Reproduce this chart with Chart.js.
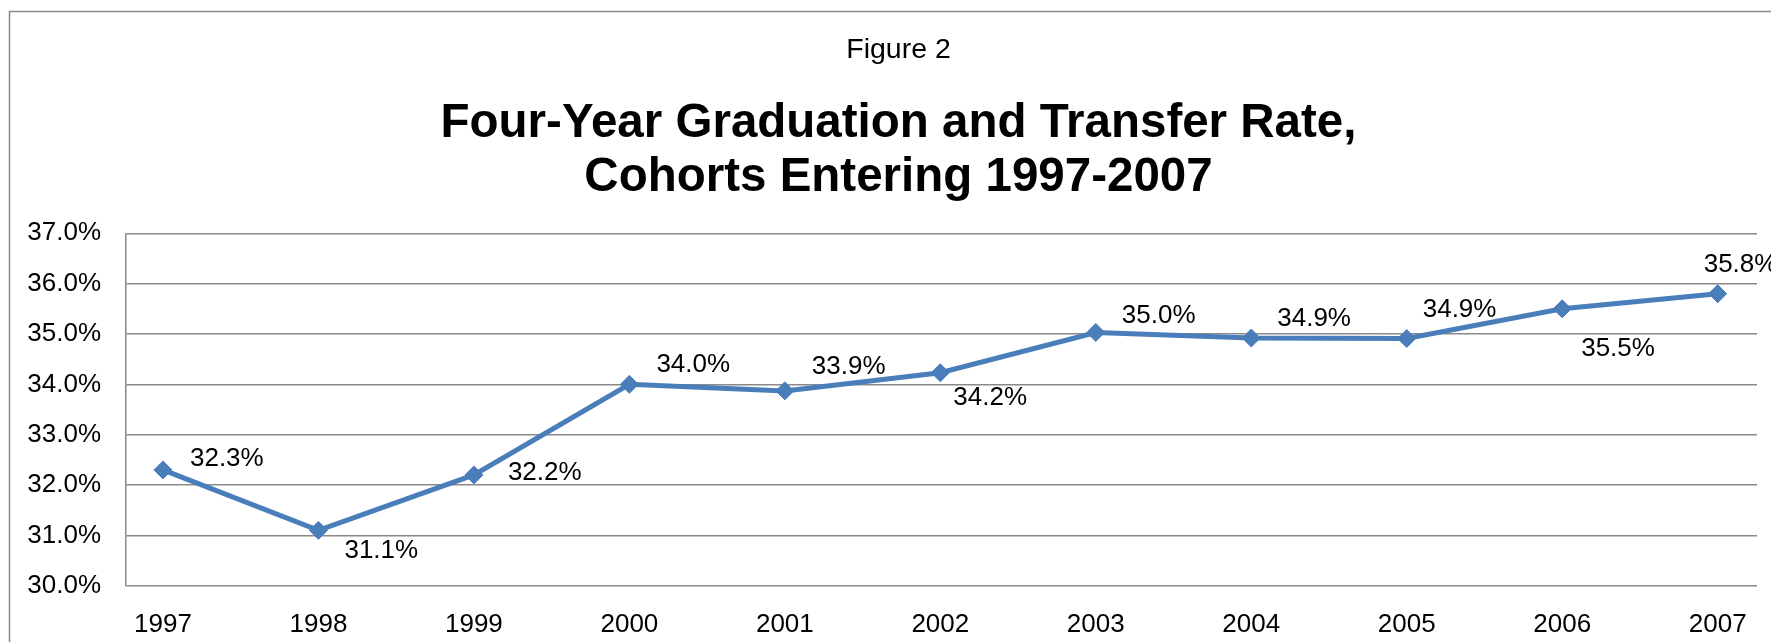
<!DOCTYPE html>
<html>
<head>
<meta charset="utf-8">
<script src="https://cdn.jsdelivr.net/npm/chart.js@4/dist/chart.umd.min.js"></script>
<style>
  html, body { margin: 0; padding: 0; background: #ffffff; }
  #wrap { width: 1771px; height: 642px; }
</style>
</head>
<body>
<div id="wrap"><canvas id="c" width="1771" height="642"></canvas></div>
<script>
// ---- Data ----
const years = ['1997', '1998', '1999', '2000', '2001', '2002', '2003', '2004', '2005', '2006', '2007'];
const rates = [32.3, 31.1, 32.2, 34.0, 33.87, 34.23, 35.03, 34.92, 34.91, 35.5, 35.8];
const yTicks = [30, 31, 32, 33, 34, 35, 36, 37];
const figureLabel = 'Figure 2';
const titleLines = ['Four-Year Graduation and Transfer Rate,', 'Cohorts Entering 1997-2007'];

// ---- Styling (label placement offsets in px, relative to each point) ----
const labelOffsets = [[27, -11], [26, 21], [34, -2], [27, -20], [27, -24], [13, 25],
                      [26, -17], [26, -19], [16, -29], [19, 40], [-14, -29]];
const FONT = 'Arial, "Liberation Sans", Helvetica, sans-serif';
const LINE_COLOR = '#4A7EBB';
const GRID_COLOR = '#8a8a8a';
const TITLE_CENTER_X = 898.5;

const points = years.map((y, i) => ({ x: Number(y), y: rates[i] }));

const frame = {
  id: 'frame',
  beforeDraw(chart) {
    const ctx = chart.ctx;
    ctx.save();
    ctx.strokeStyle = '#8a8a8a';
    ctx.lineWidth = 1.5;
    ctx.beginPath();
    ctx.moveTo(9.5, chart.height + 5);
    ctx.lineTo(9.5, 11.5);
    ctx.lineTo(chart.width + 5, 11.5);
    ctx.stroke();
    ctx.restore();
  }
};

const titles = {
  id: 'titles',
  afterDraw(chart) {
    const ctx = chart.ctx;
    ctx.save();
    ctx.fillStyle = '#000000';
    ctx.textAlign = 'center';
    ctx.textBaseline = 'alphabetic';
    ctx.font = '28.5px ' + FONT;
    ctx.fillText(figureLabel, TITLE_CENTER_X, 58.3);
    ctx.font = 'bold 47.5px ' + FONT;
    ctx.fillText(titleLines[0], TITLE_CENTER_X, 136.7);
    ctx.fillText(titleLines[1], TITLE_CENTER_X, 191);
    ctx.restore();
  }
};

const dataLabels = {
  id: 'dataLabels',
  afterDatasetsDraw(chart) {
    const ctx = chart.ctx;
    const meta = chart.getDatasetMeta(0);
    ctx.save();
    ctx.font = '26px ' + FONT;
    ctx.fillStyle = '#000000';
    ctx.textAlign = 'left';
    ctx.textBaseline = 'middle';
    meta.data.forEach((el, i) => {
      const off = labelOffsets[i];
      ctx.fillText(rates[i].toFixed(1) + '%', el.x + off[0], el.y + off[1]);
    });
    ctx.restore();
  }
};

new Chart(document.getElementById('c'), {
  type: 'line',
  data: {
    datasets: [{
      data: points,
      borderColor: LINE_COLOR,
      backgroundColor: LINE_COLOR,
      borderWidth: 5,
      tension: 0,
      pointStyle: 'rectRot',
      pointRadius: 9,
      pointBorderWidth: 1,
      pointBackgroundColor: LINE_COLOR,
      pointBorderColor: LINE_COLOR,
      clip: false
    }]
  },
  options: {
    responsive: false,
    animation: false,
    devicePixelRatio: 1,
    layout: { padding: { left: 0, right: 14, top: 233.3, bottom: 0 } },
    plugins: {
      legend: { display: false },
      tooltip: { enabled: false },
      title: { display: false },
      subtitle: { display: false }
    },
    scales: {
      x: {
        type: 'linear',
        min: 1996.759,
        max: 2007.253,
        grid: { display: false },
        border: { display: false },
        afterBuildTicks(scale) {
          scale.ticks = years.map(y => ({ value: Number(y) }));
        },
        afterFit(scale) { scale.height = 56.3; },
        ticks: {
          color: '#000000',
          padding: 15.7,
          maxRotation: 0,
          autoSkip: false,
          font: { family: FONT, size: 26 },
          callback: (v) => String(v)
        }
      },
      y: {
        min: yTicks[0],
        max: yTicks[yTicks.length - 1],
        afterBuildTicks(scale) {
          scale.ticks = yTicks.map(v => ({ value: v }));
        },
        afterFit(scale) { scale.width = 125.5; },
        grid: { color: GRID_COLOR, lineWidth: 1.5, drawTicks: false },
        border: { display: true, color: GRID_COLOR, width: 1.5 },
        ticks: {
          color: '#000000',
          padding: 24.5,
          font: { family: FONT, size: 26 },
          callback: (v) => v.toFixed(1) + '%'
        }
      }
    }
  },
  plugins: [frame, titles, dataLabels]
});
</script>
</body>
</html>
